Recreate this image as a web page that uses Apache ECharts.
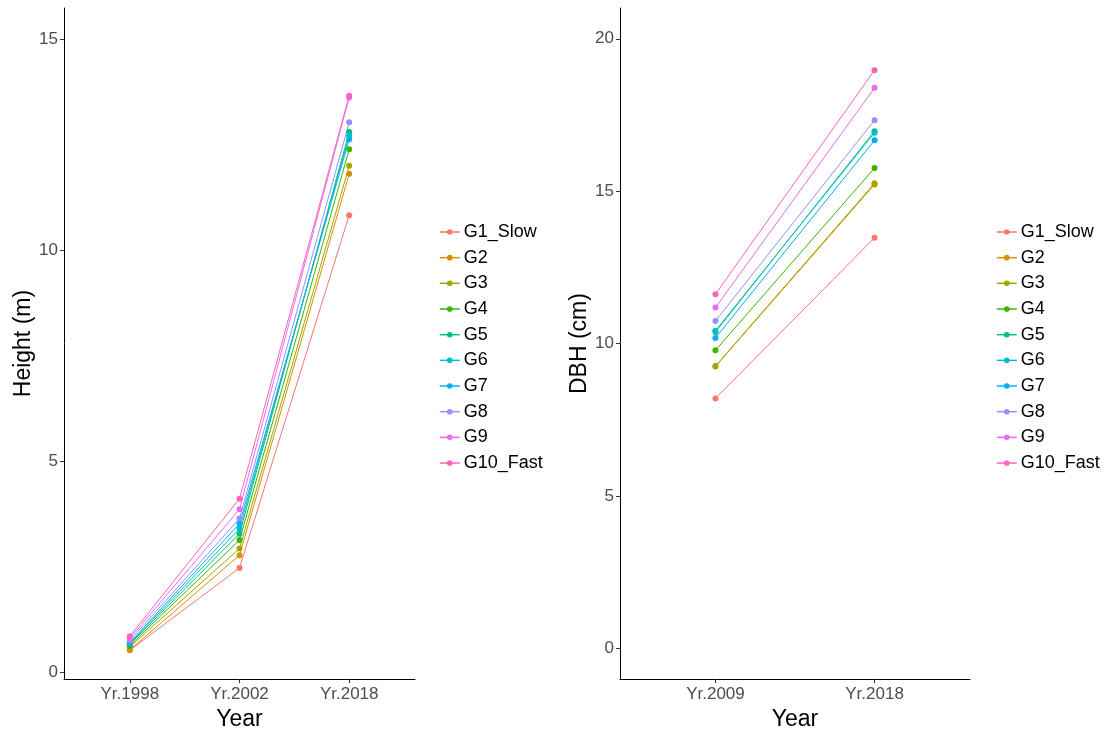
<!DOCTYPE html>
<html><head><meta charset="utf-8">
<script src="https://cdn.jsdelivr.net/npm/echarts@6/dist/echarts.min.js"></script>
<style>html,body{margin:0;padding:0;background:#fff}#c{width:1105px;height:736px}</style>
</head><body><div id="c"></div>
<script>
const groups = ['G1_Slow','G2','G3','G4','G5','G6','G7','G8','G9','G10_Fast'];
const colors = ['#F8766D','#D89000','#A3A500','#39B600','#00BF7D','#00BFC4','#00B0F6','#9590FF','#E76BF3','#FF62BC'];
const heightYears = ['Yr.1998','Yr.2002','Yr.2018'];
const dbhYears = ['Yr.2009','Yr.2018'];
// Height (m) per group: [1998, 2002, 2018]
const height_G1 = [0.52, 2.47, 10.83];
const height_G2 = [0.53, 2.77, 11.81];
const height_G3 = [0.60, 2.93, 12.00];
const height_G4 = [0.63, 3.13, 12.39];
const height_G5 = [0.66, 3.28, 12.80];
const height_G6 = [0.68, 3.40, 12.72];
const height_G7 = [0.70, 3.52, 12.63];
const height_G8 = [0.75, 3.64, 13.03];
const height_G9 = [0.80, 3.86, 13.62];
const height_G10 = [0.85, 4.11, 13.66];
// DBH (cm) per group: [2009, 2018]
const dbh_G1 = [8.20, 13.47];
const dbh_G2 = [9.25, 15.22];
const dbh_G3 = [9.26, 15.26];
const dbh_G4 = [9.78, 15.76];
const dbh_G5 = [10.38, 16.97];
const dbh_G6 = [10.42, 16.92];
const dbh_G7 = [10.18, 16.67];
const dbh_G8 = [10.74, 17.33];
const dbh_G9 = [11.18, 18.39];
const dbh_G10 = [11.62, 18.97];
const heightTicks = [0,5,10,15];
const dbhTicks = [0,5,10,15,20];

const heightData = [height_G1,height_G2,height_G3,height_G4,height_G5,height_G6,height_G7,height_G8,height_G9,height_G10];
const dbhData = [dbh_G1,dbh_G2,dbh_G3,dbh_G4,dbh_G5,dbh_G6,dbh_G7,dbh_G8,dbh_G9,dbh_G10];

const FONT = 'Liberation Sans, Arial, sans-serif';
const chart = echarts.init(document.getElementById('c'), null, {renderer:'canvas'});

function xAxisFor(cats, gridIndex){
  return {
    type:'value', gridIndex, min:0.4, max:cats.length+0.6,
    name:'Year', nameLocation:'middle', nameGap:27,
    nameTextStyle:{color:'#000', fontSize:23, fontFamily:FONT},
    axisLine:{show:true, onZero:false, lineStyle:{color:'#000', width:1}},
    axisTick:{show:true, length:4, customValues:cats.map((c,i)=>i+1), lineStyle:{color:'#333'}},
    axisLabel:{customValues:cats.map((c,i)=>i+1), formatter:v=>cats[Math.round(v)-1]||'', color:'#4D4D4D', fontSize:17, fontFamily:FONT, margin:7},
    splitLine:{show:false}
  };
}
function yAxisFor(name, min, max, ticks, gridIndex, gap){
  return {
    type:'value', gridIndex, min, max,
    name, nameLocation:'middle', nameGap:gap,
    nameTextStyle:{color:'#000', fontSize:23, fontFamily:FONT},
    axisLine:{show:true, onZero:false, lineStyle:{color:'#000', width:1}},
    axisTick:{show:true, length:4, customValues:ticks, lineStyle:{color:'#333'}},
    axisLabel:{customValues:ticks, color:'#4D4D4D', fontSize:17, fontFamily:FONT, margin:6},
    splitLine:{show:false}
  };
}

const series = [];
groups.forEach((g,i)=>{
  series.push({
    name:g, type:'line', xAxisIndex:0, yAxisIndex:0,
    data: heightData[i].map((v,j)=>[j+1, v]),
    symbol:'circle', symbolSize:6, color:colors[i],
    lineStyle:{width:1}, itemStyle:{color:colors[i]}, animation:false
  });
});
groups.forEach((g,i)=>{
  series.push({
    name:g, type:'line', xAxisIndex:1, yAxisIndex:1,
    data: dbhData[i].map((v,j)=>[j+1, v]),
    symbol:'circle', symbolSize:6, color:colors[i],
    lineStyle:{width:1}, itemStyle:{color:colors[i]}, animation:false
  });
});

function legendAt(left){
  return {
    orient:'vertical', left, top:223, data:groups, padding:0,
    itemWidth:20, itemHeight:7, itemGap:7.67,
    selectedMode:false,
    lineStyle:{width:1.5},
    textStyle:{color:'#000', fontSize:18, fontFamily:FONT, lineHeight:18, padding:[0,0,0,-1]}
  };
}

chart.setOption({
  backgroundColor:'#fff',
  animation:false,
  grid:[
    {left:64, top:8, width:351, height:675},
    {left:620, top:8, width:350, height:675}
  ],
  xAxis:[xAxisFor(heightYears,0), xAxisFor(dbhYears,1)],
  yAxis:[
    yAxisFor('Height (m)', -0.165, 15.74, heightTicks, 0, 29),
    yAxisFor('DBH (cm)', -1.01, 21.01, dbhTicks, 1, 27)
  ],
  legend:[legendAt(439), legendAt(996)],
  series
});
</script></body></html>
